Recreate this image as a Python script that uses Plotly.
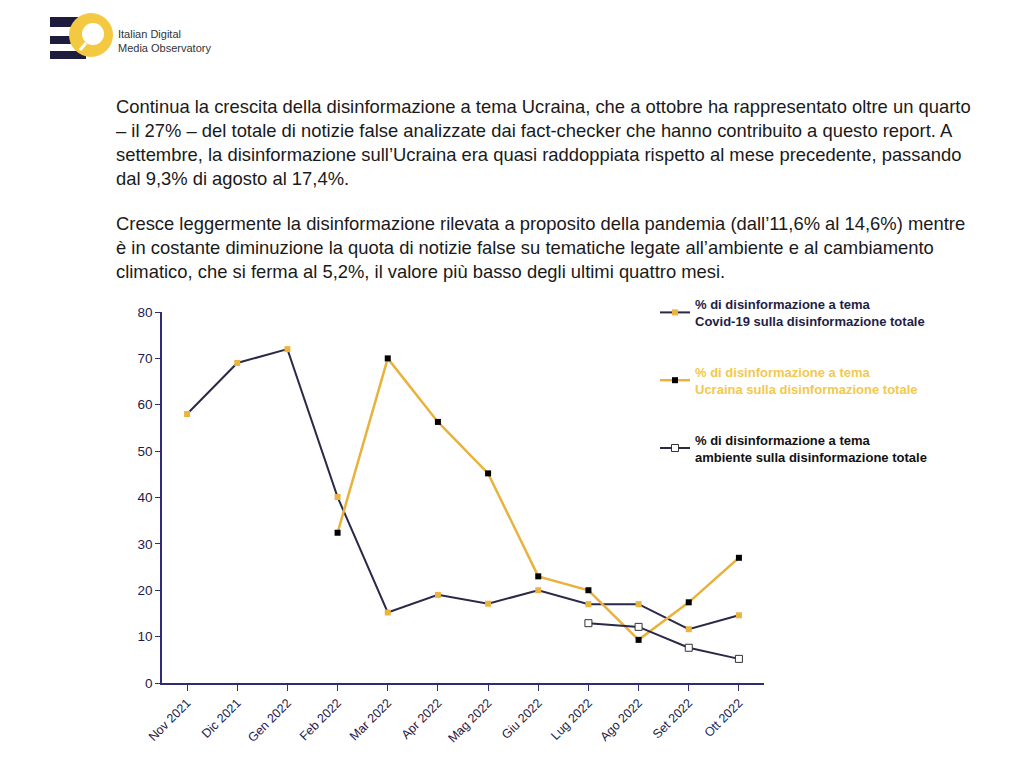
import plotly.graph_objects as go

months = ["Nov 2021", "Dic 2021", "Gen 2022", "Feb 2022", "Mar 2022", "Apr 2022",
          "Mag 2022", "Giu 2022", "Lug 2022", "Ago 2022", "Set 2022", "Ott 2022"]
covid = [58, 69, 72, 40.1, 15.2, 19, 17.1, 20, 17, 17, 11.6, 14.6]
ucraina = [None, None, None, 32.4, 70, 56.3, 45.2, 23, 20, 9.3, 17.4, 27]
ambiente = [None, None, None, None, None, None, None, None, 12.9, 12.1, 7.6, 5.2]

names = [
    "<b>% di disinformazione a tema<br>Covid-19 sulla disinformazione totale</b>",
    "<b><span style='color:#F2C94C'>% di disinformazione a tema</span><br><span style='color:#F2C94C'>Ucraina sulla disinformazione totale</span></b>",
    "<b><span style='color:#111111'>% di disinformazione a tema</span><br><span style='color:#111111'>ambiente sulla disinformazione totale</span></b>",
]

paragraph1 = [
    "Continua la crescita della disinformazione a tema Ucraina, che a ottobre ha rappresentato oltre un quarto",
    "– il 27% – del totale di notizie false analizzate dai fact-checker che hanno contribuito a questo report. A",
    "settembre, la disinformazione sull’Ucraina era quasi raddoppiata rispetto al mese precedente, passando",
    "dal 9,3% di agosto al 17,4%.",
]
paragraph2 = [
    "Cresce leggermente la disinformazione rilevata a proposito della pandemia (dall’11,6% al 14,6%) mentre",
    "è in costante diminuzione la quota di notizie false su tematiche legate all’ambiente e al cambiamento",
    "climatico, che si ferma al 5,2%, il valore più basso degli ultimi quattro mesi.",
]

NAVY = "#2a2947"
AXIS = "#2e2c72"
YELLOW = "#E9B23C"
FONT = "Liberation Sans, Arial, sans-serif"

W, H = 1024, 758

fig = go.Figure()
fig.add_trace(go.Scatter(
    x=months, y=covid, mode="lines+markers", name=names[0], legendgroup="a",
    line=dict(color=NAVY, width=2),
    marker=dict(symbol="square", size=6, color="#EBB43E", line=dict(width=0)),
    cliponaxis=False,
))
fig.add_trace(go.Scatter(
    x=months, y=ucraina, mode="lines+markers", name=names[1], legendgroup="b",
    line=dict(color=YELLOW, width=2.5),
    marker=dict(symbol="square", size=6, color="#000000", line=dict(width=0)),
    cliponaxis=False,
))
fig.add_trace(go.Scatter(
    x=months, y=ambiente, mode="lines+markers", name=names[2], legendgroup="c",
    line=dict(color=NAVY, width=2),
    marker=dict(symbol="square", size=7, color="#ffffff", line=dict(width=1, color="#333333")),
    cliponaxis=False,
))

x0, x1 = 162, 764
y0, y1 = 683, 312

fig.update_layout(
    width=W, height=H,
    margin=dict(l=0, r=0, t=0, b=0, autoexpand=False),
    paper_bgcolor="white", plot_bgcolor="white",
    font=dict(family=FONT, color="#1c1b4a"),
    showlegend=True,
    legend=dict(
        x=655 / W, y=1 - 289 / H, xanchor="left", yanchor="top",
        font=dict(size=13, color="#1f1e45", family=FONT),
        tracegroupgap=31, itemwidth=30, bgcolor="rgba(0,0,0,0)",
    ),
    xaxis=dict(
        domain=[x0 / W, x1 / W], type="category", range=[-0.5, 11.5], automargin=False,
        showline=True, linecolor=AXIS, linewidth=1.5, showgrid=False, zeroline=False,
        ticks="outside", ticklen=6, tickcolor=AXIS, tickwidth=1.2,
        tickangle=-45, tickfont=dict(size=12.5, color="#1c1b4a"),
    ),
    yaxis=dict(
        domain=[1 - y0 / H, 1 - y1 / H], range=[0, 80], dtick=10, automargin=False,
        showline=True, linecolor=AXIS, linewidth=1.5, showgrid=False, zeroline=False,
        ticks="outside", ticklen=5, tickcolor=AXIS, tickwidth=1.2,
        tickfont=dict(size=13.5, color="#1c1b4a"),
    ),
)

anns = []
for i, line in enumerate(paragraph1):
    anns.append(dict(x=114 / W, y=1 - (94 + 24 * i) / H, xref="paper", yref="paper",
                     xanchor="left", yanchor="top", text=line, showarrow=False,
                     font=dict(size=18.4, color="#1a1a1a", family=FONT)))
for i, line in enumerate(paragraph2):
    anns.append(dict(x=114 / W, y=1 - (211 + 24 * i) / H, xref="paper", yref="paper",
                     xanchor="left", yanchor="top", text=line, showarrow=False,
                     font=dict(size=18.4, color="#1a1a1a", family=FONT)))
anns.append(dict(x=116 / W, y=1 - 26 / H, xref="paper", yref="paper", xanchor="left", yanchor="top",
                 text="Italian Digital<br>Media Observatory", showarrow=False, align="left",
                 font=dict(size=11, color="#333333", family=FONT)))
fig.update_layout(annotations=anns)

# logo
def px(x):
    return x / W

def py(y):
    return 1 - y / H

shapes = []
for (ya, yb) in [(17, 27), (36, 44), (51, 59)]:
    shapes.append(dict(type="rect", xref="paper", yref="paper", x0=px(50), x1=px(86),
                       y0=py(yb), y1=py(ya), fillcolor="#1d1c3d", line=dict(width=0), layer="above"))
shapes.append(dict(type="circle", xref="paper", yref="paper", x0=px(69), x1=px(113),
                   y0=py(57), y1=py(13), fillcolor="#F4C942", line=dict(width=0), layer="above"))
shapes.append(dict(type="circle", xref="paper", yref="paper", x0=px(82), x1=px(104),
                   y0=py(45), y1=py(23), fillcolor="#ffffff", line=dict(width=0), layer="above"))
shapes.append(dict(type="line", xref="paper", yref="paper", x0=px(80), x1=px(86),
                   y0=py(50), y1=py(43), line=dict(color="#ffffff", width=3), layer="above"))
fig.update_layout(shapes=shapes)

fig.write_html("out.html")
